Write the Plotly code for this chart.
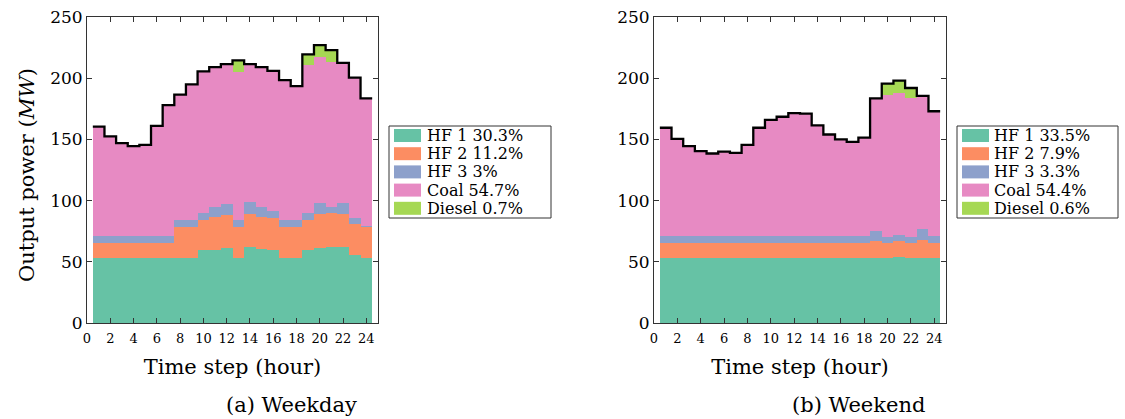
import plotly.graph_objects as go

hours = list(range(1, 25))
colors = {"HF 1": "#66c2a5", "HF 2": "#fc8d62", "HF 3": "#8da0cb", "Coal": "#e78ac3", "Diesel": "#a6d854"}
sources = ["HF 1", "HF 2", "HF 3", "Coal", "Diesel"]

# Weekday (MW)
hf1_wd = [53.5]*9 + [60, 60, 61, 53.5, 62.5, 60.5, 59.5, 53.5, 53.5, 59.5, 61.5, 62.5, 62, 55.5, 53.5]
hf2_wd = [12]*7 + [25, 25, 24.5, 26.5, 27, 25, 26.5, 26, 26, 25, 25, 24.5, 27.5, 27.5, 27, 25, 25]
hf3_wd = [5.5]*9 + [5, 8, 9, 5.5, 9.5, 8, 6, 5.5, 5.5, 5.5, 9, 4.5, 9, 5, 0.5]
coal_wd = [89.5, 81.5, 76, 73.5, 74.5, 90, 107, 102.5, 111, 116, 114.5, 114.5, 121, 113, 114.5, 114.5,
           114.5, 109.5, 121, 119.5, 119, 114.5, 115, 104.5]
diesel_wd = [0]*12 + [9.5] + [0]*5 + [9, 9.5, 9.5] + [0]*3
pct_wd = ["30.3%", "11.2%", "3%", "54.7%", "0.7%"]

# Weekend (MW)
hf1_we = [53.5]*20 + [54] + [53.5]*3
hf2_we = [12]*18 + [13.5, 12, 13, 12, 14, 12]
hf3_we = [5.5]*18 + [8, 4.5, 4.5, 4.5, 9, 5.5]
coal_we = [88.5, 79.5, 73.5, 69.5, 67.5, 69, 68, 74.5, 88.5, 95, 97.5, 100.5, 100, 90.5, 83, 79, 77, 80.5,
           108.5, 116, 116.5, 113.5, 109, 102]
diesel_we = [0]*19 + [9.5, 10, 8.5] + [0]*2
pct_we = ["33.5%", "7.9%", "3.3%", "54.4%", "0.6%"]

x_ticks = list(range(0, 25, 2))
y_ticks = list(range(0, 251, 50))

W, H = 1125, 419
FONT = "DejaVu Serif"


def px(x):
    return x / W


def py(y):
    return (H - y) / H


fig = go.Figure()
shapes = []
annotations = []

panels = [
    ("x", "y", [hf1_wd, hf2_wd, hf3_wd, coal_wd, diesel_wd], pct_wd, (389, 551, 394, 421, 425)),
    ("x2", "y2", [hf1_we, hf2_we, hf3_we, coal_we, diesel_we], pct_we, (957, 1118, 962, 989, 992)),
]
for xa, ya, series, pcts, (bx0, bx1, sx0, sx1, tx) in panels:
    for name, vals in zip(sources, series):
        fig.add_trace(go.Bar(x=hours, y=vals, width=1, name=name,
                             marker=dict(color=colors[name], line=dict(width=0)),
                             showlegend=False, xaxis=xa, yaxis=ya))
    total = [sum(v) for v in zip(*series)]
    edges = [h - 0.5 for h in hours] + [hours[-1] + 0.5]
    fig.add_trace(go.Scatter(x=edges, y=total + [total[-1]], mode="lines", name="Total",
                             line=dict(color="black", width=2.3, shape="hv"),
                             showlegend=False, xaxis=xa, yaxis=ya))
    # legend box
    shapes.append(dict(type="rect", xref="paper", yref="paper", x0=px(bx0), x1=px(bx1), y0=py(218), y1=py(126),
                       line=dict(color="#333", width=1), fillcolor="white", layer="above"))
    for i, (name, p) in enumerate(zip(sources, pcts)):
        cy = 135.5 + 18.2 * i
        shapes.append(dict(type="rect", xref="paper", yref="paper", x0=px(sx0), x1=px(sx1),
                           y0=py(cy + 6.5), y1=py(cy - 6.5), line=dict(width=0),
                           fillcolor=colors[name], layer="above"))
        annotations.append(dict(text=f"{name} {p}", x=px(tx), y=py(cy), xref="paper", yref="paper",
                                xanchor="left", yanchor="middle", showarrow=False,
                                font=dict(family=FONT, size=16, color="black")))

axis_common = dict(showline=True, linecolor="#333", linewidth=1, mirror="ticks", ticks="inside",
                   tickcolor="#333", ticklen=5, showgrid=False, zeroline=False)

annotations += [
    dict(text="Output power (<i>MW</i>)", x=px(27), y=py(175), xref="paper", yref="paper", textangle=-90,
         xanchor="center", yanchor="middle", showarrow=False, font=dict(family=FONT, size=21)),
    dict(text="(a) Weekday", x=px(291), y=py(405), xref="paper", yref="paper",
         xanchor="center", yanchor="middle", showarrow=False, font=dict(family=FONT, size=21)),
    dict(text="(b) Weekend", x=px(858), y=py(405), xref="paper", yref="paper",
         xanchor="center", yanchor="middle", showarrow=False, font=dict(family=FONT, size=21)),
]

fig.update_layout(
    width=W, height=H, margin=dict(l=0, r=0, t=0, b=0, autoexpand=False),
    paper_bgcolor="white", plot_bgcolor="white",
    barmode="stack", bargap=0, showlegend=False,
    font=dict(family=FONT, color="black"),
    xaxis=dict(domain=[px(87), px(378)], range=[0, 25], tickvals=x_ticks, tickfont=dict(size=13),
               ticklabelstandoff=3,
               title=dict(text="Time step (hour)", font=dict(size=21), standoff=14), **axis_common),
    yaxis=dict(domain=[py(323), py(17)], range=[0, 250], tickvals=y_ticks, tickfont=dict(size=17),
               **axis_common),
    xaxis2=dict(domain=[px(654), px(946)], range=[0, 25], tickvals=x_ticks, tickfont=dict(size=13),
                ticklabelstandoff=3,
                title=dict(text="Time step (hour)", font=dict(size=21), standoff=14), anchor="y2", **axis_common),
    yaxis2=dict(domain=[py(323), py(17)], range=[0, 250], tickvals=y_ticks, tickfont=dict(size=17),
                anchor="x2", **axis_common),
    shapes=shapes,
    annotations=annotations,
)

fig.write_html("out.html", config={"displayModeBar": False},
               post_script="document.body.style.margin='0';document.body.style.padding='0';")
